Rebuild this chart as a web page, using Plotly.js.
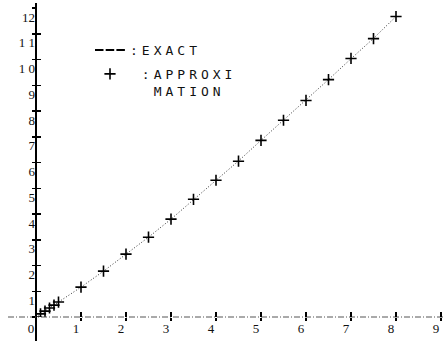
<!DOCTYPE html>
<html>
<head>
<meta charset="utf-8">
<script src="https://cdn.plot.ly/plotly-3.0.1.min.js"></script>
<style>
html,body{margin:0;padding:0;background:#fff;}
#chart{width:444px;height:341px;}
.legendtext{letter-spacing:4px;}
</style>
</head>
<body>
<div id="chart"></div>
<script>
// ---- data ----
const xValues      = [0, 0.1, 0.2, 0.3, 0.4, 0.5, 1.0, 1.5, 2.0, 2.5, 3.0, 3.5, 4.0, 4.5, 5.0, 5.5, 6.0, 6.5, 7.0, 7.5, 8.0];
const exactValues  = [0, 0.12, 0.23, 0.35, 0.46, 0.58, 1.16, 1.78, 2.44, 3.10, 3.80, 4.55, 5.30, 6.06, 6.86, 7.64, 8.42, 9.22, 10.03, 10.82, 11.67];
const approxValues = [0, 0.12, 0.23, 0.35, 0.46, 0.58, 1.16, 1.78, 2.44, 3.10, 3.80, 4.57, 5.31, 6.05, 6.86, 7.64, 8.41, 9.22, 10.04, 10.81, 11.67];
const xTickVals  = [0, 1, 2, 3, 4, 5, 6, 7, 8, 9];
const xTickText  = ["0", "1", "2", "3", "4", "5", "6", "7", "8", "9"];
const yTickVals  = [0, 1, 2, 3, 4, 5, 6, 7, 8, 9, 10, 11, 12];
const yTickText  = ["", "1", "2", "3", "4", "5", "6", "7", "8", "9", "1 0", "1 1", "12"];
const exactName  = ":EXACT";
const approxName = "\u200B\u00A0:APPROXI<br>\u200B\u00A0\u00A0MATION";

// ---- layout geometry ----
const W = 444, H = 341;
const M = {l: 36, r: 0, t: 8, b: 24};
const plotW = W - M.l - M.r, plotH = H - M.t - M.b;
const xMax = plotW / 45;   // 45 px per x unit
const yMax = 12;

const traces = [
  { // exact curve (dotted)
    x: xValues, y: exactValues, mode: "lines", name: exactName, showlegend: false,
    line: {color: "#333", width: 1, dash: "1px,2px"}, hoverinfo: "skip"
  },
  { // legend key for the exact curve (drawn only in the legend)
    x: [null], y: [null], xaxis: "x2", yaxis: "y2",
    mode: "lines", name: exactName, legendgroup: "a",
    line: {color: "#000", width: 2, dash: "8.5px,2.2px"}
  },
  { // approximation crosses
    x: xValues, y: approxValues, mode: "markers", name: approxName, legendgroup: "b",
    marker: {symbol: "cross-thin", size: 8, color: "#000", line: {color: "#000", width: 1.6}}
  }
];

const tickFont = {family: "Liberation Serif", size: 13, color: "#111"};

const layout = {
  width: W, height: H,
  margin: M,
  paper_bgcolor: "#fff", plot_bgcolor: "#fff",
  showlegend: true,
  legend: {
    x: (90 - M.l) / plotW, xanchor: "left",
    y: (H - M.b - 35) / plotH, yanchor: "top",
    bgcolor: "rgba(0,0,0,0)", borderwidth: 0,
    font: {family: "DejaVu Sans Mono", size: 13, color: "#111"},
    valign: "top", traceorder: "grouped", tracegroupgap: 4
  },
  xaxis: {
    range: [0, xMax], showgrid: false, zeroline: false, showline: false,
    tickmode: "array", tickvals: xTickVals, ticktext: xTickText,
    ticks: "inside", ticklen: 5, tickwidth: 1.5, tickcolor: "#000",
    tickfont: tickFont, ticklabelshift: -5, ticklabelstandoff: 2,
    fixedrange: true
  },
  yaxis: {
    range: [0, yMax], showgrid: false, zeroline: false, showline: false,
    tickmode: "array", tickvals: yTickVals, ticktext: yTickText,
    ticks: "inside", ticklen: 5, tickwidth: 1.5, tickcolor: "#000",
    tickfont: tickFont, ticklabelshift: 9,
    fixedrange: true
  },
  xaxis2: {
    overlaying: "x", anchor: "y2", side: "bottom",
    range: [0, xMax], showgrid: false, zeroline: false, showline: false,
    tickmode: "array", tickvals: xTickVals, showticklabels: false,
    ticks: "outside", ticklen: 3, tickwidth: 1.5, tickcolor: "#000",
    fixedrange: true
  },
  yaxis2: {
    overlaying: "y", anchor: "x2", side: "left",
    range: [0, yMax], showgrid: false, zeroline: false, showline: false,
    tickmode: "array", tickvals: yTickVals, showticklabels: false,
    ticks: "outside", ticklen: 3, tickwidth: 1.5, tickcolor: "#000",
    fixedrange: true
  },
  shapes: [
    { // y axis line (solid), running past the origin
      type: "line", xref: "paper", yref: "paper",
      x0: 0, x1: 0, y0: -M.b / plotH, y1: 1 + 5 / plotH,
      line: {color: "#000", width: 2}, layer: "below"
    },
    { // x axis line (dash-dot), running left of the origin
      type: "line", xref: "paper", yref: "paper",
      x0: -28 / plotW, x1: 1, y0: 0, y1: 0,
      line: {color: "#555", width: 1, dash: "6px,2px,1px,2px"}, layer: "below"
    }
  ]
};

Plotly.newPlot("chart", traces, layout, {displayModeBar: false, staticPlot: true});
</script>
</body>
</html>
